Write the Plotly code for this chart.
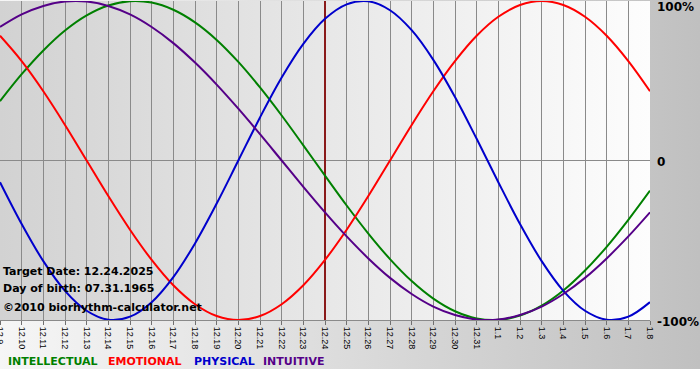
import base64
import plotly.graph_objects as go

# ---------------- data ----------------
dates = ["12.9", "12.10", "12.11", "12.12", "12.13", "12.14", "12.15", "12.16",
         "12.17", "12.18", "12.19", "12.20", "12.21", "12.22", "12.23", "12.24",
         "12.25", "12.26", "12.27", "12.28", "12.29", "12.30", "12.31",
         "1.1", "1.2", "1.3", "1.4", "1.5", "1.6", "1.7", "1.8"]

intellectual = [0.372, 0.541, 0.690, 0.815, 0.910, 0.972, 0.999, 0.990, 0.945, 0.866,
                0.756, 0.618, 0.458, 0.282, 0.095, -0.095, -0.282, -0.458, -0.618, -0.756,
                -0.866, -0.945, -0.990, -0.999, -0.972, -0.910, -0.815, -0.690, -0.541,
                -0.372, -0.189]
emotional = [0.782, 0.623, 0.434, 0.223, 0.0, -0.223, -0.434, -0.623, -0.782, -0.901,
             -0.975, -1.0, -0.975, -0.901, -0.782, -0.623, -0.434, -0.223, 0.0, 0.223,
             0.434, 0.623, 0.782, 0.901, 0.975, 1.0, 0.975, 0.901, 0.782, 0.623, 0.434]
physical = [-0.136, -0.398, -0.631, -0.817, -0.942, -0.998, -0.979, -0.888, -0.731, -0.520,
            -0.270, 0.0, 0.270, 0.520, 0.731, 0.888, 0.979, 0.998, 0.942, 0.817,
            0.631, 0.398, 0.136, -0.136, -0.398, -0.631, -0.817, -0.942, -0.998, -0.979,
            -0.888]
intuitive = [0.837, 0.916, 0.969, 0.997, 0.997, 0.969, 0.916, 0.837, 0.736, 0.614,
             0.476, 0.325, 0.165, 0.0, -0.165, -0.325, -0.476, -0.614, -0.736, -0.837,
             -0.916, -0.969, -0.997, -0.997, -0.969, -0.916, -0.837, -0.736, -0.614,
             -0.476, -0.325]

target_date = "12.24"
info_lines = ["Target Date: 12.24.2025", "Day of birth: 07.31.1965",
              "\u00a92010 biorhythm-calculator.net"]
series_names = ["INTELLECTUAL", "EMOTIONAL", "PHYSICAL", "INTUITIVE"]
y_tick_vals = [1, 0, -1]
y_tick_text = ["100%", "0", "-100%"]

# ---------------- styling ----------------
colors = ["#008000", "#ff0000", "#0000cc", "#550088"]
series = [intellectual, emotional, physical, intuitive]
W, H = 700, 380
ML, MR, MT, MB = 0, 50, 1, 60
PW, PH = W - ML - MR, H - MT - MB
BOLD = "DejaVu Sans"


def px_x(px):
    return (px - ML) / PW


def px_y(py):
    return (H - MB - py) / PH


def grad(c0, c1):
    svg = ('<svg xmlns="http://www.w3.org/2000/svg" width="100" height="100" '
           'viewBox="0 0 100 100" preserveAspectRatio="none"><defs>'
           '<linearGradient id="g" x1="0" y1="0" x2="1" y2="0">'
           f'<stop offset="0" stop-color="{c0}"/><stop offset="1" stop-color="{c1}"/>'
           '</linearGradient></defs><rect width="100" height="100" fill="url(#g)"/></svg>')
    return "data:image/svg+xml;base64," + base64.b64encode(svg.encode()).decode()


fig = go.Figure()

# target date line
fig.add_trace(go.Scatter(x=[target_date, target_date], y=[-1, 1], mode="lines",
                         line=dict(color="#8a1a1a", width=2), hoverinfo="skip"))

for name, vals, col in zip(series_names, series, colors):
    fig.add_trace(go.Scatter(x=dates, y=vals, mode="lines", name=name,
                             line=dict(color=col, width=2, shape="spline", smoothing=1)))

annotations = []
# right side y labels
for v, t, ys in zip(y_tick_vals, y_tick_text, [-6, -1, -2]):
    annotations.append(dict(xref="paper", yref="y", x=1, y=v, xanchor="left",
                            yanchor="middle", xshift=5, yshift=ys, text=t, showarrow=False,
                            font=dict(family=BOLD, size=12, color="#000000", weight="bold")))
# info text
for t, py in zip(info_lines, [271, 288, 307]):
    annotations.append(dict(xref="paper", yref="paper", x=px_x(1), y=px_y(py),
                            xanchor="left", yanchor="middle", text=f"<b>{t}</b>",
                            showarrow=False,
                            font=dict(family=BOLD, size=11, color="#000000")))
# legend text
for t, col, px in zip(series_names, colors, [6, 106, 192, 261]):
    annotations.append(dict(xref="paper", yref="paper", x=px_x(px), y=px_y(361),
                            xanchor="left", yanchor="middle", text=f"<b>{t}</b>",
                            showarrow=False,
                            font=dict(family=BOLD, size=11, color=col)))

images = [
    dict(source=grad("#f6f6f6", "#c0c0c0"), xref="paper", yref="paper",
         x=px_x(0), y=px_y(0), sizex=W / PW, sizey=369 / PH,
         xanchor="left", yanchor="top", sizing="stretch", layer="below"),
    dict(source=grad("#d2d2d2", "#fdfdfd"), xref="paper", yref="paper",
         x=0, y=1, sizex=1, sizey=1,
         xanchor="left", yanchor="top", sizing="stretch", layer="below"),
]

fig.update_layout(
    width=W, height=H,
    margin=dict(l=ML, r=MR, t=MT, b=MB, pad=0),
    paper_bgcolor="#ffffff", plot_bgcolor="#e6e6e6",
    showlegend=False,
    annotations=annotations,
    images=images,
    xaxis=dict(type="category", categoryorder="array", categoryarray=dates,
               range=[0, len(dates) - 1], showgrid=True, gridcolor="#8a8a8a", gridwidth=1,
               showline=True, linecolor="#8a8a8a", linewidth=1,
               ticks="outside", ticklen=4, tickcolor="#707070", tickwidth=1,
               tickangle=90, tickfont=dict(family="Liberation Sans", size=9, color="#000000"),
               zeroline=False, automargin=False, fixedrange=True),
    yaxis=dict(range=[-1, 1], showgrid=False, showticklabels=False,
               zeroline=True, zerolinecolor="#8a8a8a", zerolinewidth=1,
               showline=False, automargin=False, fixedrange=True),
)

fig.write_html("out.html",
               config={"displayModeBar": False},
               post_script="document.body.style.margin='0';document.body.style.overflow='hidden';")
